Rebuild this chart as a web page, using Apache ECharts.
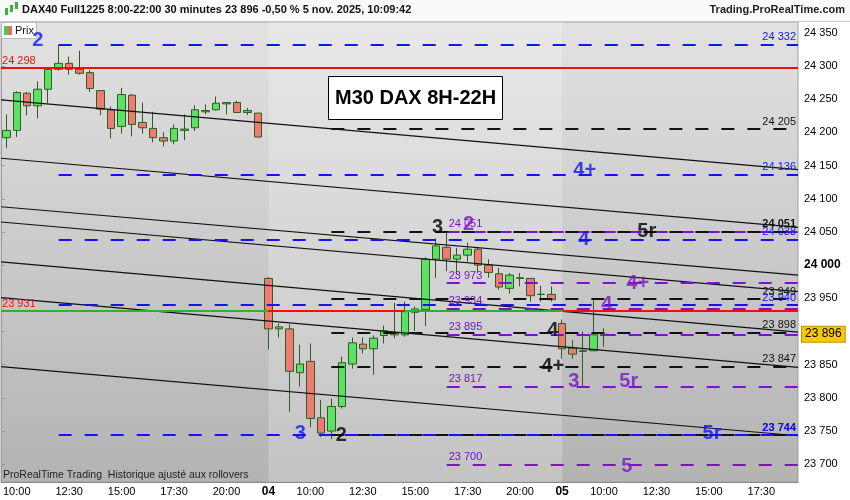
<!DOCTYPE html>
<html><head><meta charset="utf-8">
<script src="https://cdn.jsdelivr.net/npm/echarts@6/dist/echarts.min.js"></script>
<style>html,body{margin:0;padding:0;background:#fff}#c{width:850px;height:500px}</style>
</head><body><div id="c"></div>
<script>
// ---------- data ----------
function slots(day, h, m, n) {
  const out = [];
  for (let i = 0; i < n; i++) {
    const t = h * 60 + m + 30 * i;
    out.push(day + ' ' + String(Math.floor(t / 60)).padStart(2, '0') + ':' + String(t % 60).padStart(2, '0'));
  }
  return out;
}
const categories = [].concat(slots('03', 9, 30, 25), slots('04', 8, 0, 28), slots('05', 8, 0, 23));

const xLabelCats  = ['03 10:00','03 12:30','03 15:00','03 17:30','03 20:00','04 08:00','04 10:00','04 12:30','04 15:00','04 17:30','04 20:00','05 08:00','05 10:00','05 12:30','05 15:00','05 17:30'];
const xLabelTexts = ['10:00','12:30','15:00','17:30','20:00','04','10:00','12:30','15:00','17:30','20:00','05','10:00','12:30','15:00','17:30'];
const yTicks = [23700,23750,23800,23850,23900,23950,24000,24050,24100,24150,24200,24250,24300,24350];

// [open, close, low, high]
const day1Candles = [
  [24192,24203,24176,24227],[24203,24260,24193,24262],[24259,24240,24226,24261],[24240,24265,24221,24277],
  [24265,24295,24244,24296],[24295,24304,24293,24332],[24304,24295,24287,24314],[24295,24289,24287,24323],
  [24290,24266,24261,24294],[24263,24235,24226,24263],[24234,24206,24191,24239],[24209,24257,24198,24267],
  [24256,24212,24194,24258],[24215,24207,24198,24245],[24206,24192,24185,24231],[24192,24187,24179,24200],
  [24187,24206,24182,24212],[24203,24205,24188,24227],[24207,24234,24202,24241],[24231,24233,24227,24242],
  [24234,24244,24233,24254],[24243,24245,24227,24245],[24245,24230,24229,24248],[24233,24230,24226,24237],
  [24229,24193,24193,24229]
];
const day2Candles = [
  [23980,23904,23873,23982],[23904,23907,23891,23912],[23904,23840,23779,23911],[23838,23851,23817,23880],
  [23855,23769,23756,23882],[23770,23747,23741,23797],[23750,23787,23738,23799],[23787,23853,23784,23862],
  [23851,23883,23844,23891],[23881,23874,23867,23891],[23874,23890,23835,23894],[23894,23901,23882,23909],
  [23898,23895,23890,23943],[23895,23930,23892,23945],[23929,23934,23901,23938],[23933,24009,23908,24012],
  [24009,24029,23981,24040],[24027,24009,23991,24049],[24009,24015,23986,24026],[24015,24024,24005,24034],
  [24024,24000,23988,24027],[24000,23989,23981,24009],[23987,23967,23963,23996],[23965,23985,23957,23988],
  [23980,23981,23968,23988],[23980,23954,23945,23980],[23956,23956,23945,23969],[23956,23948,23945,23968]
];
const day3Candles = [
  [23912,23874,23859,23918],[23875,23866,23859,23887],[23870,23871,23817,23900],[23871,23895,23871,23947],
  [23894,23896,23877,23905]
];

const blueLevels   = [24332, 24136, 24038, 23940, 23744];
const blackLevels  = [24205, 24051, 23949, 23898, 23847, 23744];
const purpleLevels = [24051, 23973, 23934, 23895, 23817, 23700];
const redLevel = 24298;
const prevLevel = 23931;
const lastPrice = 23896;

// trend channel lines: value at left edge, value at right edge
const trendStart = [24249, 24161, 24088, 24065, 24005, 23951, 23847];
const trendEnd   = [24144, 24057, 23985, 23960, 23899, 23846, 23743];

// annotations: [slot position, value, text]
const blueMarks   = [[3.5,24338,'2'],[55.66,24143,'4+'],[55.57,24038,'4'],[28.55,23746,'3'],[67.8,23747,'5r']];
const blackMarks  = [[41.63,24057,'3'],[61.58,24050,'5r'],[52.61,23901,'4'],[52.61,23848,'4+'],[32.46,23744,'2']];
const purpleMarks = [[44.59,24062,'2'],[60.72,23973,'4+'],[57.76,23940,'4'],[54.61,23824,'3'],[59.86,23824,'5r'],[59.67,23697,'5']];

// ---------- chart ----------
const FONT = '"Liberation Sans", Arial, sans-serif';
const fmt = v => String(v).replace(/\B(?=(\d{3})+(?!\d))/g, ' ');
const NSLOT = categories.length;
const BLUE = '#1414f0', BLACK = '#111111', PURPLE = '#7a14c4', RED = '#ee1010', GREEN = '#3aaa35';

const chart = echarts.init(document.getElementById('c'), null, {renderer: 'canvas'});

function levelLine(levels, start, color, pos, boldSet) {
  return {
    type: 'line', xAxisIndex: 1, yAxisIndex: 0, data: [], z: 4, silent: true,
    markLine: {
      silent: true, symbol: ['none', 'none'], animation: false,
      lineStyle: {type: [13, 13], width: 2, color: color},
      label: {show: true, position: pos, color: color, fontSize: 11, fontFamily: FONT, distance: 2},
      data: levels.map(v => [
        {coord: [start, v], label: {formatter: fmt(v), fontWeight: boldSet.indexOf(v) >= 0 ? 'bold' : 'normal'}},
        {coord: [NSLOT, v]}
      ])
    }
  };
}
function marks(list, color) {
  return {
    type: 'scatter', xAxisIndex: 1, yAxisIndex: 0, z: 6, silent: true,
    symbol: 'circle', symbolSize: 1, itemStyle: {color: 'rgba(0,0,0,0)'},
    label: {show: true, position: 'inside', formatter: '{b}', color: color, fontSize: 20, fontWeight: 'bold', fontFamily: FONT},
    data: list.map(d => ({name: d[2], value: [d[0], d[1]]}))
  };
}

const series = [];
// day 2 lighter band
series.push({
  type: 'line', xAxisIndex: 1, yAxisIndex: 0, data: [], z: 1, silent: true,
  markArea: {silent: true, itemStyle: {color: 'rgba(255,255,255,0.22)'}, data: [[{xAxis: 25.5}, {xAxis: 53.5}]]}
});
series.push({
  type: 'candlestick', name: 'Prix', xAxisIndex: 0, yAxisIndex: 0, z: 3, barWidth: 8,
  data: [].concat(day1Candles, day2Candles, day3Candles),
  itemStyle: {color: '#5be266', color0: '#f07a74', borderColor: '#2e5d1c', borderColor0: '#2e5d1c', borderWidth: 1}
});
// current price tag on the axis
series.push({
  type: 'line', xAxisIndex: 1, yAxisIndex: 0, data: [], z: 10, silent: true,
  markLine: {
    silent: true, symbol: ['none', 'none'], animation: false, z: 10,
    lineStyle: {width: 0, color: 'rgba(0,0,0,0)'},
    label: {show: true, position: 'end', distance: 4, formatter: fmt(lastPrice), color: '#000', fontSize: 12, fontFamily: FONT,
      backgroundColor: '#f8c800', borderColor: '#b89600', borderWidth: 1, padding: [2, 3, 1, 3]},
    data: [[{coord: [0, lastPrice]}, {coord: [NSLOT, lastPrice]}]]
  }
});
trendStart.forEach((a, i) => {
  series.push({type: 'line', xAxisIndex: 1, yAxisIndex: 0, z: 4, silent: true, symbol: 'none',
    lineStyle: {color: '#111', width: 1.2}, data: [[0, a], [NSLOT, trendEnd[i]]]});
});
// green previous-close line, full width, with red label
series.push({
  type: 'line', xAxisIndex: 1, yAxisIndex: 0, data: [], z: 4, silent: true,
  markLine: {silent: true, symbol: ['none', 'none'], animation: false,
    lineStyle: {type: 'solid', width: 2, color: GREEN},
    label: {show: true, position: 'insideStartTop', distance: 1, color: RED, fontSize: 11, fontFamily: FONT, formatter: fmt(prevLevel)},
    data: [[{coord: [0, prevLevel]}, {coord: [NSLOT, prevLevel]}]]}
});
// red segments on the same level and the red 24298 line
series.push({
  type: 'line', xAxisIndex: 1, yAxisIndex: 0, data: [], z: 4, silent: true,
  markLine: {silent: true, symbol: ['none', 'none'], animation: false,
    lineStyle: {type: 'solid', width: 2, color: RED},
    label: {show: false},
    data: [
      [{coord: [25.5, prevLevel]}, {coord: [38.5, prevLevel]}],
      [{coord: [53.6, prevLevel]}, {coord: [NSLOT, prevLevel]}],
      [{coord: [0, redLevel], label: {show: true, position: 'insideStartTop', distance: 1, color: RED, fontSize: 11, fontFamily: FONT, formatter: fmt(redLevel)}},
       {coord: [NSLOT, redLevel]}]
    ]}
});
series.push(levelLine(purpleLevels, 42.5, PURPLE, 'insideStartTop', []));
series.push(levelLine(blackLevels, 31.5, BLACK, 'insideEndTop', [24051]));
series.push(levelLine(blueLevels, 5.5, BLUE, 'insideEndTop', [23744]));
series.push(marks(blueMarks, BLUE));
series.push(marks(blackMarks, '#000'));
series.push(marks(purpleMarks, PURPLE));

const labelMap = {};
xLabelCats.forEach((c, i) => { labelMap[c] = xLabelTexts[i]; });

const option = {
  animation: false,
  backgroundColor: '#ffffff',
  textStyle: {fontFamily: FONT},
  title: {
    text: 'M30 DAX 8H-22H', left: 328, top: 76, padding: [12, 7, 12, 7],
    borderColor: '#000', borderWidth: 1, backgroundColor: '#ffffff',
    textStyle: {fontSize: 20, fontWeight: 'bold', color: '#000', fontFamily: FONT}
  },
  grid: {
    left: 1, right: 52, top: 22, bottom: 18, show: true,
    backgroundColor: new echarts.graphic.LinearGradient(0, 0, 0, 1, [
      {offset: 0, color: '#e2e2e2'}, {offset: 1, color: '#b3b3b3'}
    ]),
    borderColor: '#a0a0a0', borderWidth: 1
  },
  xAxis: [
    {
      type: 'category', data: categories, boundaryGap: true,
      axisLine: {show: true, lineStyle: {color: '#8a8a8a'}},
      axisTick: {show: false},
      splitLine: {show: false},
      axisLabel: {
        interval: (idx, val) => labelMap[val] !== undefined,
        formatter: val => {
          const t = labelMap[val] || '';
          return (t === '04' || t === '05') ? '{b|' + t + '}' : t;
        },
        color: '#000', fontSize: 11, margin: 4, fontFamily: FONT,
        rich: {b: {fontWeight: 'bold', fontSize: 12, color: '#000', fontFamily: FONT}}
      }
    },
    {type: 'value', min: 0, max: NSLOT, show: false}
  ],
  yAxis: {
    type: 'value', position: 'right', min: 23673.3, max: 24366.3, scale: true,
    splitLine: {show: false},
    axisLine: {show: true, lineStyle: {color: '#9a9a9a'}},
    axisTick: {show: true, length: 4, customValues: yTicks, lineStyle: {color: '#9a9a9a'}},
    axisLabel: {
      customValues: yTicks, margin: 6, color: '#000', fontSize: 11, fontFamily: FONT,
      formatter: v => v === 24000 ? '{b|' + fmt(v) + '}' : fmt(v),
      rich: {b: {fontWeight: 'bold', fontSize: 12, color: '#000', fontFamily: FONT}}
    }
  },
  graphic: [
    {type: 'rect', shape: {x: 0, y: 0, width: 850, height: 21}, style: {fill: '#fafafa'}, z: 100},
    {type: 'line', shape: {x1: 0, y1: 21.5, x2: 850, y2: 21.5}, style: {stroke: '#c8c8c8', lineWidth: 1}, z: 100},
    {type: 'rect', shape: {x: 5, y: 8, width: 3, height: 7}, style: {fill: '#3cb043'}, z: 101},
    {type: 'rect', shape: {x: 10, y: 5, width: 3, height: 7}, style: {fill: '#3cb043'}, z: 101},
    {type: 'rect', shape: {x: 15, y: 2, width: 3, height: 7}, style: {fill: '#3cb043'}, z: 101},
    {type: 'text', left: 22, top: 4, z: 101,
      style: {text: 'DAX40 Full1225 8:00-22:00 30 minutes 23 896 -0,50 % 5 nov. 2025, 10:09:42', fill: '#111', font: 'bold 11px ' + FONT}},
    {type: 'text', right: 5, top: 4, z: 101,
      style: {text: 'Trading.ProRealTime.com', fill: '#222', font: 'bold 11px ' + FONT}},
    {type: 'rect', shape: {x: 1.5, y: 22.5, width: 35, height: 16}, style: {fill: '#ffffff', stroke: '#b8b8b8', lineWidth: 1}, z: 5},
    {type: 'rect', shape: {x: 4, y: 26, width: 4, height: 9}, style: {fill: '#3fcf4a'}, z: 5},
    {type: 'rect', shape: {x: 8, y: 26, width: 4, height: 9}, style: {fill: '#e86a66'}, z: 5},
    {type: 'text', left: 15, top: 25, z: 5, style: {text: 'Prix', fill: '#111', font: '11px ' + FONT}},
    {type: 'text', left: 3, top: 470, z: 101,
      style: {text: 'ProRealTime Trading  Historique ajusté aux rollovers', fill: '#222', font: '10.5px ' + FONT}}
  ],
  series: series
};
chart.setOption(option);
</script>
</body></html>
